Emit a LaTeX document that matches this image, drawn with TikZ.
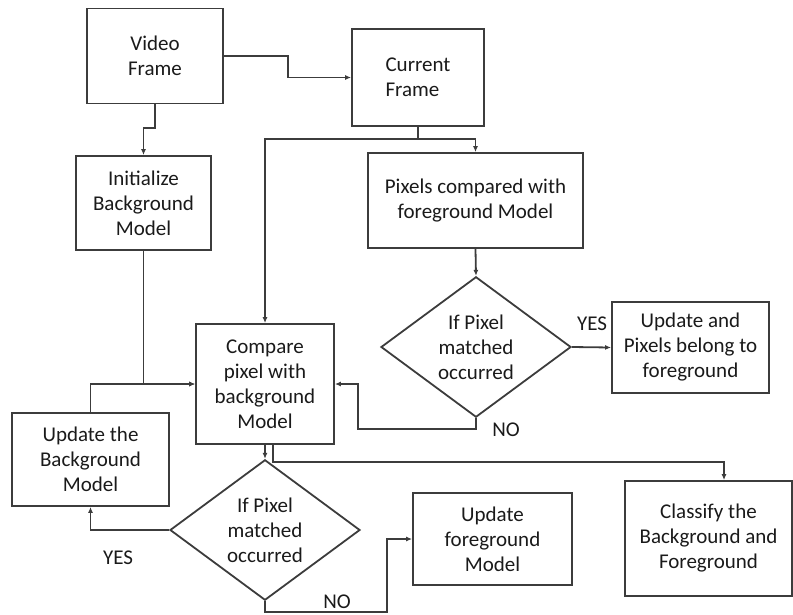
\documentclass[tikz,border=0pt]{standalone}
\usepackage{fontspec}
\setmainfont{Carlito}
\usetikzlibrary{shapes.geometric,arrows.meta}
\definecolor{ln}{HTML}{3C3C3C}
\definecolor{txt}{HTML}{1A1A1A}
\begin{document}
\begin{tikzpicture}[x=1pt,y=-1pt,
 every node/.append style={font=\fontsize{21}{25}\selectfont, text=txt},
 box/.style={draw=ln, line width=1.8pt, align=center, inner sep=0pt},
 dec/.style={draw=ln, line width=1.8pt, diamond, align=center, inner sep=0pt, minimum width=190pt, minimum height=121pt},
 conn/.style={draw=ln, line width=1.8pt, -{Latex[length=6pt,width=5pt]}},
 lbl/.style={inner sep=0pt}]
\useasboundingbox (0,0) rectangle (793,614);
\node[box, minimum width=136pt, minimum height=95pt] (video) at (155,56) {Video\\Frame};
\node[box, minimum width=132pt, minimum height=97pt, align=left] (current) at (418,77.5) {Current\\Frame};
\node[box, minimum width=135pt, minimum height=94pt] (init) at (143.5,203) {Initialize\\Background\\Model};
\node[box, minimum width=215pt, minimum height=95pt] (pix) at (475.5,200.5) {Pixels compared with\\foreground Model};
\node[dec] (d1) at (476,347) {If Pixel\\matched\\occurred};
\node[box, minimum width=157pt, minimum height=91pt] (updfgp) at (690.5,347.5) {Update and\\Pixels belong to\\foreground};
\node[box, minimum width=138pt, minimum height=120pt] (cmp) at (265,384) {Compare\\pixel with\\background\\Model};
\node[box, minimum width=157pt, minimum height=93pt] (updbg) at (90.5,459.5) {Update the\\Background\\Model};
\node[dec] (d2) at (265,530) {If Pixel\\matched\\occurred};
\node[box, minimum width=159pt, minimum height=92pt] (updfg) at (492.5,539) {Update\\foreground\\Model};
\node[box, minimum width=167pt, minimum height=115pt] (cls) at (708.5,538.5) {Classify the\\Background and\\Foreground};

\node[lbl] (yes1) at (592,324) {YES};
\node[lbl] (no1) at (506,430) {NO};
\node[lbl] (yes2) at (118,558) {YES};
\node[lbl] (no2) at (337,602) {NO};

\coordinate (j1) at (418,139);
\coordinate (k1) at (724,462);
\draw[conn] (video.east) -- (288,56) -- (288,77.5) -- (current.west);
\draw[conn] (video.south) -- (155,128) -- (143.5,128) -- (init.north);
\draw[conn] (current.south) -- (j1) -- (475.5,139) -- (pix.north);
\draw[conn] (j1) -- (265,139) -- (cmp.north);
\draw[conn] (pix.south) -- (d1.north);
\draw[conn] (d1.east) -- (updfgp.west);
\draw[conn] (d1.south) -- (476,429) -- (358,429) |- (cmp.east);
\draw[conn] (init.south) |- (cmp.west);
\draw[conn] (updbg.north) |- (cmp.west);
\draw[conn] (cmp.south) -- (d2.north);
\draw[conn] ([xshift=8pt]cmp.south) -- (273,462) -- (k1) -- (k1 |- cls.north);
\draw[conn] (d2.west) -| (updbg.south);
\draw[conn] (d2.south) -- (265,612) -- (387,612) |- (updfg.west);
\end{tikzpicture}
\end{document}
